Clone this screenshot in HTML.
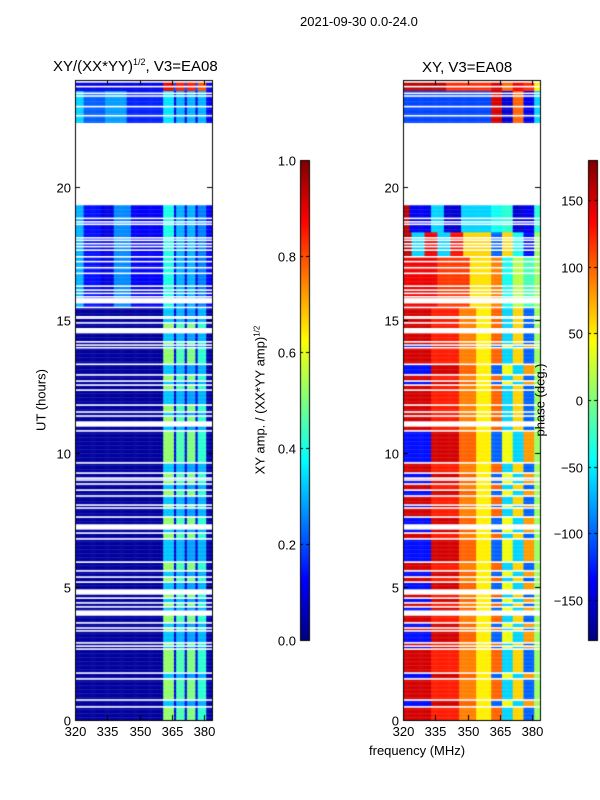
<!DOCTYPE html>
<html><head><meta charset="utf-8"><style>
body{margin:0;background:#fff;width:600px;height:800px;position:relative;overflow:hidden;font-family:"Liberation Sans",sans-serif;color:#000}
.t{position:absolute;white-space:nowrap;font-size:13px}
canvas{position:absolute;left:0;top:0}
</style></head><body>
<canvas id="c" width="600" height="800"></canvas>
<div class="t" style="left:300px;top:14px">2021-09-30 0.0-24.0</div>
<div class="t" style="left:53px;top:57px;font-size:15px">XY/(XX*YY)<sup style="font-size:9px">1/2</sup>, V3=EA08</div>
<div class="t" style="left:422px;top:59px;font-size:15px">XY, V3=EA08</div>
<div class="t" style="left:41px;top:400px;transform:translate(-50%,-50%) rotate(-90deg)">UT (hours)</div>
<div class="t" style="left:369px;top:743px">frequency (MHz)</div>
<div class="t" style="left:260px;top:400px;transform:translate(-50%,-50%) rotate(-90deg)">XY amp. / (XX*YY amp)<sup style="font-size:8px">1/2</sup></div>
<div class="t" style="left:540px;top:400px;transform:translate(-50%,-50%) rotate(-90deg)">phase (deg.)</div>
<div id="labels"></div>
<script>
// ---- data ----
const hourTicks=[0,5,10,15,20];
const freqTicks=[320,335,350,365,380];
const ampTicks=[0.0,0.2,0.4,0.6,0.8,1.0];
const phaseTicks=[-150,-100,-50,0,50,100,150];
const chanStart=[];for(let i=0;i<64;i++)chanStart.push(320+i);
const gapHours=[23.93,23.75,23.5,23.4,23.0,22.66,18.81,18.68,18.59,18.08,17.99,17.86,17.75,17.62,17.37,17.19,16.96,16.75,16.27,16.12,16.0,15.87,15.72,15.47,15.12,15.07,14.89,14.6,14.18,14.06,13.96,13.34,12.94,12.71,12.56,12.37,11.81,11.55,11.4,11.1,10.84,9.64,9.26,9.07,9.0,8.85,8.62,8.4,8.06,7.95,7.61,7.24,7.01,6.79,5.92,5.59,5.36,5.17,4.8,4.57,4.39,4.24,4.01,3.64,3.45,3.34,2.89,2.77,2.66,1.76,1.54,0.75,0.49];
const gapWidths=gapHours.map(h=>[15.72,14.6,11.1,7.24,4.8,4.01].includes(h)?0.2:0.06);
const ampProfiles={
 low:[[41,0.03],[5,0.52],[1,0.1],[4,0.45],[1,0.1],[4,0.5],[1,0.1],[4,0.42],[3,0.04]],
 low2:[[41,0.03],[5,0.32],[1,0.08],[4,0.3],[1,0.08],[4,0.28],[1,0.08],[4,0.3],[3,0.04]],
 mid:[[4,0.3],[8,0.14],[6,0.1],[8,0.26],[15,0.12],[5,0.4],[1,0.1],[4,0.3],[1,0.1],[4,0.3],[1,0.1],[4,0.25],[3,0.12]],
 top:[[4,0.33],[10,0.22],[10,0.28],[17,0.16],[5,0.35],[1,0.1],[4,0.3],[1,0.1],[4,0.3],[1,0.1],[4,0.3],[3,0.12]],
 topRed:[[41,0.1],[5,0.9],[1,0.2],[4,0.85],[1,0.2],[4,0.85],[1,0.2],[4,0.8],[3,0.1]]
};
const phaseProfiles={
 A:[[13,150],[13,125],[8,90],[7,50],[5,100],[5,-60],[5,60],[5,-100],[3,10]],
 B:[[13,-130],[13,150],[8,100],[7,50],[5,-100],[5,40],[5,-60],[5,80],[3,10]],
 midRed:[[16,140],[15,115],[10,55],[5,90],[5,-40],[5,20],[5,-20],[3,10]],
 wave:[[4,160],[6,-60],[6,140],[6,-60],[6,130],[13,60],[5,-100],[5,60],[5,-40],[5,-130],[3,10]],
 blueTop:[[3,160],[10,-140],[6,-60],[8,-150],[14,-60],[5,-40],[5,-30],[5,-150],[5,-140],[3,-30]],
 cyan:[[41,-110],[5,150],[5,-150],[5,100],[5,-140],[3,-60]],
 redTop:[[20,160],[21,120],[5,150],[5,100],[5,140],[5,120],[3,50]]
};
const blocks=[
 [0,3.3,'low','low2','A','B'],[3.3,7.3,'low','low2','A','B'],[7.3,11.2,'low','low2','B','A'],
 [11.2,12.4,'low','low2','A','A'],[12.4,14.2,'low','low2','A','B'],[14.2,15.5,'low','low2','A','A'],
 [15.5,17.4,'mid','mid','midRed','midRed'],[17.4,18.3,'mid','mid','wave','wave'],
 [18.3,19.3,'mid','mid','blueTop','blueTop'],[22.4,23.6,'top','top','cyan','cyan'],
 [23.6,24,'topRed','topRed','redTop','redTop']
];
// ---- scales ----
const P1={x0:75,x1:212},P2={x0:403,x1:540},Y0=720,Y1=80;
const fMin=320,fMax=383.7;
const xs=(p,f)=>p.x0+(f-fMin)*(p.x1-p.x0)/(fMax-fMin);
const ys=h=>Y0-h*(Y0-Y1)/24;
function expand(r){const o=[];r.forEach(([n,v])=>{for(let i=0;i<n;i++)o.push(v)});return o;}
function jet(v){v=Math.max(0,Math.min(1,v));
 const r=Math.max(0,Math.min(1,Math.min(4*v-1.5,-4*v+4.5)));
 const g=Math.max(0,Math.min(1,Math.min(4*v-0.5,-4*v+3.5)));
 const b=Math.max(0,Math.min(1,Math.min(4*v+0.5,-4*v+2.5)));
 return `rgb(${r*255|0},${g*255|0},${b*255|0})`;}
const cv=document.getElementById('c'),ctx=cv.getContext('2d');
const A={},Ph={};for(const k in ampProfiles)A[k]=expand(ampProfiles[k]);for(const k in phaseProfiles)Ph[k]=expand(phaseProfiles[k]);
const rowH=0.05;
blocks.forEach(b=>{
 for(let h=b[0];h<b[1]-1e-9;h+=rowH){
  const seg=gapHours.filter(g=>g<h).length%2;
  const la=A[seg?b[3]:b[2]],rp=Ph[seg?b[5]:b[4]];
  const yTop=ys(Math.min(h+rowH,b[1])),yB=ys(h);
  chanStart.forEach((f,i)=>{
   const fe=Math.min(f+1,fMax);
   ctx.fillStyle=jet(la[i]);ctx.fillRect(xs(P1,f),yTop,xs(P1,fe)-xs(P1,f)+0.5,yB-yTop+0.3);
   ctx.fillStyle=jet((rp[i]+180)/360);ctx.fillRect(xs(P2,f),yTop,xs(P2,fe)-xs(P2,f)+0.5,yB-yTop+0.3);
  });
 }
});
ctx.fillStyle='#fff';
gapHours.forEach((g,i)=>{const w=gapWidths[i];
 [P1,P2].forEach(p=>ctx.fillRect(p.x0,ys(g+w/2),p.x1-p.x0,ys(g-w/2)-ys(g+w/2)));});
// colorbars
const CB1={x:300,w:9},CB2={x:588,w:9},CT=160,CBt=640;
for(let y=CT;y<CBt;y++){const v=(CBt-y)/(CBt-CT);ctx.fillStyle=jet(v);ctx.fillRect(CB1.x,y,CB1.w,1);ctx.fillRect(CB2.x,y,CB2.w,1);}
ctx.strokeStyle='#000';ctx.lineWidth=1;
[[CB1.x,CB1.w],[CB2.x,CB2.w]].forEach(([x,w])=>ctx.strokeRect(x+0.5,CT+0.5,w,CBt-CT));
[P1,P2].forEach(p=>ctx.strokeRect(p.x0+0.5,Y1+0.5,p.x1-p.x0,Y0-Y1));
const L=document.getElementById('labels');
function lab(txt,x,y,anchor,name){const d=document.createElement('div');d.className='t';d.textContent=txt;
 
 
 d.style.left=x+'px';d.style.top=y+'px';d.style.transform=anchor;L.appendChild(d);}
ctx.beginPath();
[P1,P2].forEach(p=>{
 hourTicks.forEach(h=>{const y=Math.round(ys(h))+0.5;ctx.moveTo(p.x0,y);ctx.lineTo(p.x0+5,y);ctx.moveTo(p.x1,y);ctx.lineTo(p.x1-5,y);
  lab(String(h),p.x0-4,y,'translate(-100%,-50%)','y-tick-label');});
 freqTicks.forEach(f=>{const x=Math.round(xs(p,f))+0.5;ctx.moveTo(x,Y0);ctx.lineTo(x,Y0-5);ctx.moveTo(x,Y1);ctx.lineTo(x,Y1+5);
  lab(String(f),x,Y0+4,'translate(-50%,0)','x-tick-label');});
});
ampTicks.forEach(v=>{const y=Math.round(CBt-v*(CBt-CT))+0.5;ctx.moveTo(CB1.x,y);ctx.lineTo(CB1.x+3,y);ctx.moveTo(CB1.x+CB1.w,y);ctx.lineTo(CB1.x+CB1.w-3,y);
 lab(v.toFixed(1),CB1.x-4,y,'translate(-100%,-50%)','amp-colorbar-tick');});
phaseTicks.forEach(v=>{const y=Math.round(CBt-(v+180)/360*(CBt-CT))+0.5;ctx.moveTo(CB2.x,y);ctx.lineTo(CB2.x+3,y);ctx.moveTo(CB2.x+CB2.w,y);ctx.lineTo(CB2.x+CB2.w-3,y);
 lab(v<0?'\u2212'+(-v):String(v),CB2.x-5,y,'translate(-100%,-50%)','phase-colorbar-tick');});
ctx.stroke();
</script>
</body></html>
